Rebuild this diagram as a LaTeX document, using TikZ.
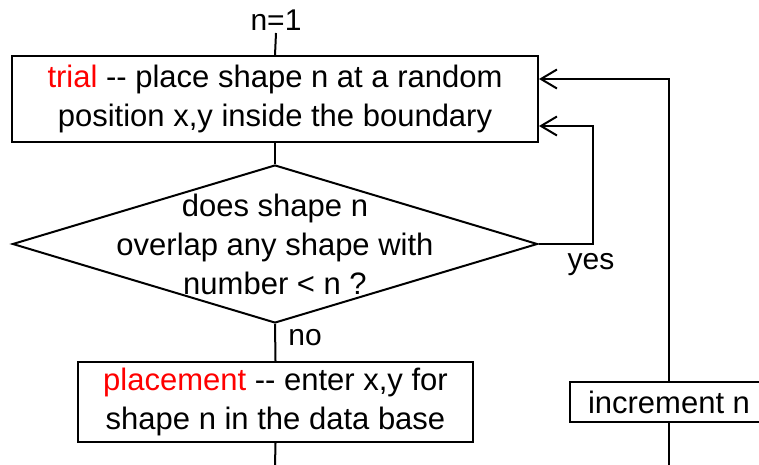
\documentclass[tikz,border=0pt]{standalone}
\usepackage{fontspec}
\setmainfont{Liberation Sans}
\usetikzlibrary{shapes.geometric,arrows.meta}
\begin{document}
\begin{tikzpicture}[x=1pt,y=-1pt,
  line width=2pt,
  body/.style={font=\fontsize{31pt}{39pt}\selectfont},
  lbl/.style={font=\fontsize{30pt}{33pt}\selectfont, inner sep=0pt},
  box/.style={draw, rectangle, body, align=center, inner sep=0pt},
  arr/.style={-{Straight Barb[length=16pt,width=19pt,line width=2pt]}}
]
\useasboundingbox (0,0) rectangle (759,465);
\node[lbl] (n1) at (276,20) {n=1};
\coordinate (n1end) at (276,33);
\node[box, minimum width=526pt, minimum height=86pt] (trial) at (275,99)
  {\textcolor{red}{trial} -{}- place shape n at a random\\position x,y inside the boundary};
\node[draw, diamond, minimum width=525pt, minimum height=158pt, inner sep=0pt] (dec) at (275,244) {};
\node[body, align=center, inner sep=0pt] (dectext) at (275,244)
  {does shape n\\overlap any shape with\\number < n ?};
\node[box, minimum width=395pt, minimum height=80pt] (place) at (275.5,402)
  {\textcolor{red}{placement} -{}- enter x,y for\\shape n in the data base};
\node[box, minimum width=198pt, minimum height=40pt] (inc) at (669,402) {increment n};
\node[lbl] (yes) at (591,265) {yes};
\node[lbl] (no) at (305,338) {no};
\coordinate (bot1) at (275,466);
\coordinate (bot2) at (669,466);
\draw (n1end) -- (trial.north);
\draw (trial.south) -- (dec.north);
\draw[arr] (dec.east) -- ++(54,0) |- ([yshift=-27pt]trial.east);
\draw[arr] (inc.north) |- ([yshift=20pt]trial.east);
\draw (dec.south) -- (place.north);
\draw (place.south) -- (bot1);
\draw (inc.south) -- (bot2);
\end{tikzpicture}
\end{document}
